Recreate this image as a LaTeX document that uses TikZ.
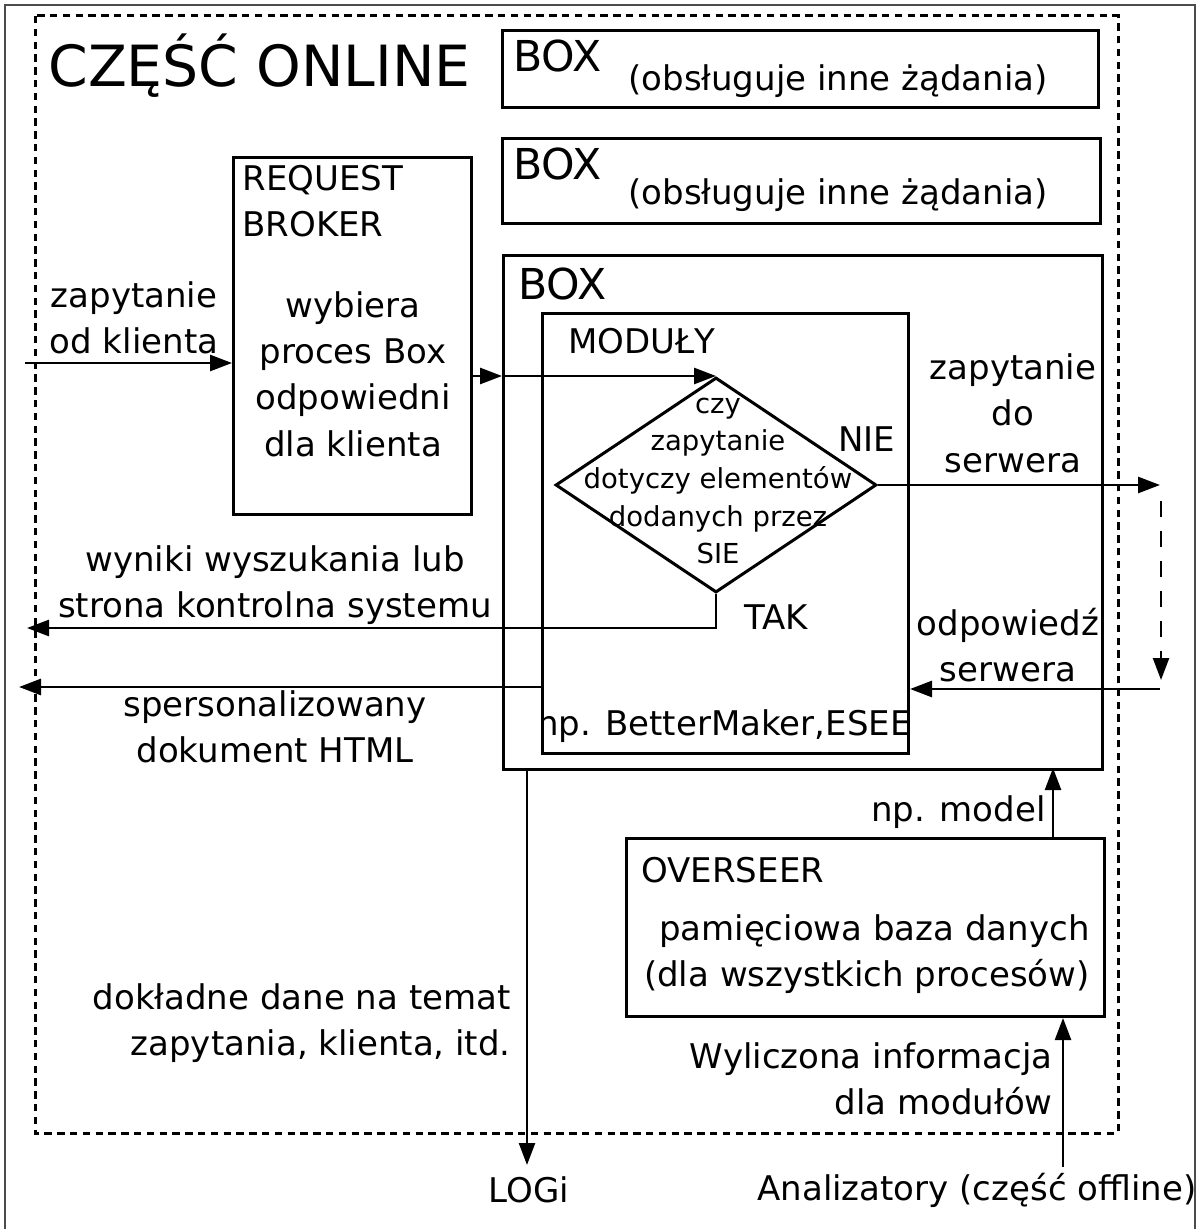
\documentclass[tikz,border=0pt]{standalone}
\usepackage{fontspec}
\setmainfont{DejaVu Sans}
\usetikzlibrary{calc, positioning}
\usetikzlibrary{arrows.meta}
\usetikzlibrary{shapes.geometric}

\tikzset{
  blok/.style={draw, line width=1.5pt, inner sep=0pt, anchor=north west},
  arr/.style={line width=1.4pt, -{Triangle[length=11pt,width=8pt]}},
  txt/.style={inner sep=0pt, font=\fontsize{17}{23.2}\selectfont},
  maly/.style={inner sep=0pt, font=\fontsize{13.75}{18.8}\selectfont},
  duzy/.style={inner sep=0pt, font=\fontsize{28.4}{34}\selectfont},
  boxname/.style={inner sep=0pt, font=\fontsize{21.3}{26}\selectfont}
}

\begin{document}
\begin{tikzpicture}[x=0.5pt,y=-0.5pt]
\useasboundingbox (0,0) rectangle (1200,1229);

% ramki
\draw[gray!60!black, line width=0.7pt] (5,5) rectangle (1195,1260);
\draw[line width=1.5pt, dash pattern=on 3.7pt off 2.7pt] (35,16) rectangle (1118,1133);
\node[duzy, anchor=base west] (online) at (48,87) {CZĘŚĆ ONLINE};

% procesy BOX
\node[blok, minimum width=298pt, minimum height=38.5pt] (box1) at (501,29) {};
\node[blok, minimum width=299pt, minimum height=42.5pt] (box2) at (501,137) {};
\node[blok, minimum width=299.5pt, minimum height=257pt] (boxmain) at (502,254) {};
\node[blok, minimum width=183pt, minimum height=220pt] (moduly) at (541,312) {};
\node[blok, minimum width=119pt, minimum height=178.5pt] (broker) at (232,156) {};
\node[blok, minimum width=239pt, minimum height=89pt] (overseer) at (625,837) {};
\node[draw, diamond, line width=1.5pt, inner sep=0pt,
  minimum width=160.5pt, minimum height=107.5pt] (dia) at (716,485) {};

\node[boxname, anchor=base west] at (513,72) {BOX};
\node[txt, anchor=base west] at (628,91) {(obsługuje inne żądania)};
\node[boxname, anchor=base west] at (513,180) {BOX};
\node[txt, anchor=base west] at (628,205) {(obsługuje inne żądania)};
\node[boxname, anchor=base west] at (518,300) {BOX};
\node[txt, anchor=base west] at (568,354) {MODUŁY};
\node[txt, align=left, anchor=west] at (242,201) {REQUEST\\BROKER};
\node[txt, align=center] at (353,374) {wybiera\\proces Box\\odpowiedni\\dla klienta};
\node[maly, align=center] at (718,481) {czy\\zapytanie\\dotyczy elementów\\dodanych przez\\SIE};
\node[txt, anchor=base west] at (838,451) {NIE};
\node[txt, anchor=base west] at (744,629) {TAK};
\begin{scope}
  \clip (moduly.south west) rectangle (moduly.north east);
  \node[txt, anchor=east] at (912,726) {np. BetterMaker,ESEE};
\end{scope}
\node[txt, anchor=base west] at (641,882) {OVERSEER};
\node[txt, align=right, anchor=east] at (1090,954) {pamięciowa baza danych\\(dla wszystkich procesów)};

% opisy strzalek
\node[txt, align=center] at (134,318) {zapytanie\\od klienta};
\node[txt, align=center] at (1013,413) {zapytanie\\do\\serwera};
\node[txt, align=center] at (1008,645) {odpowiedź\\serwera};
\node[txt, align=center] at (275,585) {wyniki wyszukania lub\\strona kontrolna systemu};
\node[txt, align=center] at (275,727) {spersonalizowany\\dokument HTML};
\node[txt, align=right, anchor=east] at (511,1023) {dokładne dane na temat\\zapytania, klienta, itd.};
\node[txt, anchor=east] at (1046,812) {np. model};
\node[txt, align=right, anchor=east] at (1053,1079) {Wyliczona informacja\\dla modułów};
\node[txt] (logitxt) at (529,1190) {LOGi};
\node[txt, anchor=west] (analiz) at (757,1190) {Analizatory (część offline)};

% strzalki
\coordinate (klient) at (25,363);
\coordinate (srv) at (1160,485);
\coordinate (srvin) at (1161,501);
\coordinate (srvout) at (1161,680);
\coordinate (srvret) at (1160,689);
\coordinate (wyn) at (27,628);
\coordinate (html) at (19,687);
\coordinate (logi) at (527,1165);
\coordinate (mdl) at (1053,768);
\coordinate (anl) at (1063,1167);

\draw[arr] (klient) -- (klient -| broker.west);
\draw[arr] (broker.east |- dia.north) -- (boxmain.west |- dia.north);
\draw[arr] (boxmain.west |- dia.north) -- (dia.north);
\draw[arr] (dia.east) -- (srv);
\draw[arr, line width=1.2pt, dash pattern=on 8pt off 7pt] (srvin) -- (srvout);
\draw[arr] (srvret) -- (srvret -| moduly.east);
\draw[arr] (dia.south) |- (wyn);
\draw[arr] (moduly.west |- html) -- (html);
\draw[arr, line width=1.2pt] (boxmain.south -| logi) -- (logi);
\draw[arr, line width=1.2pt] (overseer.north -| mdl) -- (mdl);
\draw[arr, line width=1.2pt] (anl) -- (anl |- overseer.south);
\end{tikzpicture}
\end{document}
